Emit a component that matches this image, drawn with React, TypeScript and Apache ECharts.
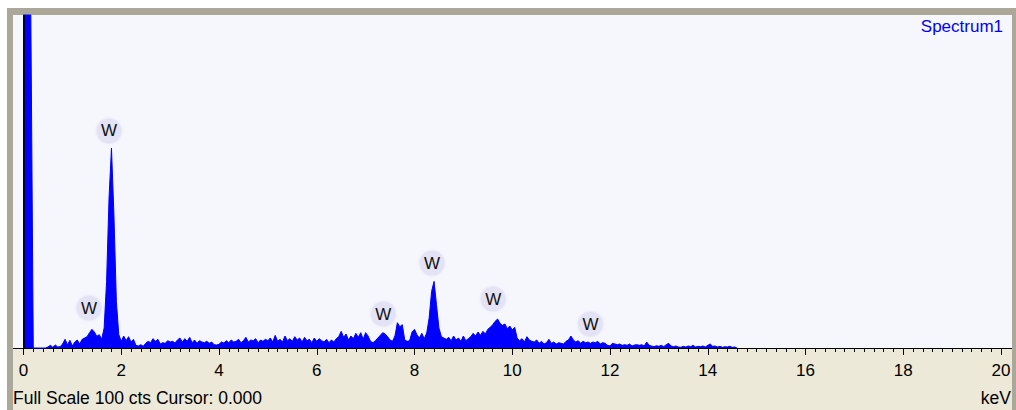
import React, { useEffect, useRef } from "react";
import * as echarts from "echarts";

// Spectrum channels: energy of channel i = ENERGY_START_KEV + i * ENERGY_STEP_KEV
const ENERGY_START_KEV = -0.2;
const ENERGY_STEP_KEV = 0.05;

// counts per channel (full scale = 100 cts), one row per keV starting at -0.2 keV
const COUNTS: number[] = [
  0, 0, 100, 100, 100, 100, 100, 100, 0, 0, 0, 0, 0, 0, 0.3, 0.8, 0.2, 0.9, 0.3, 0.4,
  1.2, 2.6, 1.0, 2.3, 0.6, 1.8, 2.4, 1.2, 2.6, 3.0, 3.4, 4.6, 5.6, 4.8, 3.5, 4.0, 2.6, 6.0, 20, 45,
  60, 40, 14, 4.0, 2.0, 3.6, 2.2, 3.4, 1.8, 2.6, 0.8, 0.6, 1.0, 0.5, 1.4, 2.0, 1.6, 2.8, 2.0, 2.6,
  1.2, 1.6, 1.4, 2.2, 1.8, 2.0, 1.5, 2.4, 3.0, 1.8, 2.8, 2.0, 3.2, 1.6, 2.4, 1.4, 2.2, 1.8, 1.6, 2.0,
  1.4, 1.8, 1.0, 0.9, 1.1, 1.8, 1.5, 2.2, 1.6, 2.4, 1.8, 2.0, 2.6, 1.6, 2.2, 3.2, 1.8, 2.4, 2.2, 2.8,
  1.6, 2.4, 2.0, 2.6, 2.2, 3.0, 1.8, 3.8, 2.0, 2.6, 1.8, 3.6, 2.2, 2.8, 2.0, 3.4, 2.4, 3.0, 1.8, 3.2,
  2.2, 2.6, 1.6, 3.0, 2.0, 2.8, 2.2, 1.8, 2.6, 1.6, 2.4, 1.8, 2.8, 3.4, 5.0, 3.2, 4.2, 2.4, 3.6, 2.8,
  4.4, 3.2, 4.6, 2.6, 4.6, 3.6, 2.0, 1.6, 2.2, 3.0, 3.8, 4.6, 4.2, 3.4, 2.4, 2.0, 3.6, 7.6, 6.4, 7.0,
  2.4, 2.0, 2.2, 4.8, 5.6, 4.0, 3.0, 4.4, 2.8, 4.5, 9, 17, 20, 13, 6, 3.4, 3.0, 2.6, 3.2, 2.2,
  3.6, 2.4, 3.0, 2.0, 3.6, 2.2, 2.8, 3.4, 4.4, 3.6, 4.8, 3.8, 5.0, 4.2, 5.6, 6.2, 7.0, 8.0, 8.7, 7.4,
  6.8, 7.2, 5.8, 6.6, 5.4, 6.2, 3.0, 2.2, 2.8, 1.8, 3.4, 2.4, 2.0, 1.8, 2.4, 1.4, 2.0, 1.2, 1.6, 2.6,
  1.4, 1.8, 1.2, 1.6, 1.4, 1.2, 2.0, 2.4, 3.6, 2.4, 1.8, 2.2, 1.4, 2.0, 1.6, 1.8, 1.4, 1.8, 1.6, 2.0,
  1.2, 1.6, 1.4, 0.8, 0.6, 1.4, 1.2, 1.0, 1.2, 0.8, 1.0, 0.8, 1.2, 0.6, 0.9, 1.0, 0.8, 1.0, 0.6, 1.8,
  0.8, 0.6, 0.4, 0.7, 0.5, 0.8, 0.4, 1.0, 1.4, 0.6, 0.4, 0.6, 0.3, 0.2, 0.5, 0.3, 0.6, 0.4, 0.8, 0.3,
  0.5, 0.4, 0.6, 0.3, 0.8, 1.2, 0.5, 0.6, 0.3, 0.5, 0.2, 0.4, 0.3, 0.5, 0.2, 0.3, 0,
];

// element line markers
const PEAK_LABELS = ["W", "W", "W", "W", "W", "W"];
const PEAK_LABEL_KEV = [1.34, 1.75, 7.36, 8.36, 9.61, 11.6];
const PEAK_LABEL_CTS = [12, 65.2, 10.2, 25.5, 14.7, 7.2];

const X_MIN_KEV = 0;
const X_MAX_KEV = 20;
const X_TICK_INTERVAL = 2;
const FULL_SCALE_CTS = 100;
const CURSOR_KEV = 0;

const SPECTRUM_NAME = "Spectrum1";
const STATUS_TEXT = "Full Scale 100 cts Cursor: 0.000";
const UNIT_TEXT = "keV";

const FONT = "'Liberation Sans', Arial, sans-serif";

export default function App() {
  const ref = useRef<HTMLDivElement>(null);

  useEffect(() => {
    if (!ref.current) return;
    const chart = echarts.init(ref.current, null, { renderer: "svg" });
    const spectrum = COUNTS.map((c, i) => [
      +(ENERGY_START_KEV + i * ENERGY_STEP_KEV).toFixed(2),
      c,
    ]);
    const markers = PEAK_LABEL_KEV.map((e, i) => [e, PEAK_LABEL_CTS[i]]);

    chart.setOption({
      animation: false,
      backgroundColor: "#ffffff",
      textStyle: { fontFamily: FONT },
      grid: { left: 23.5, right: 15, top: 15, bottom: 62 },
      xAxis: {
        type: "value",
        min: X_MIN_KEV,
        max: X_MAX_KEV,
        interval: X_TICK_INTERVAL,
        axisLine: { show: true, onZero: false, lineStyle: { color: "#000", width: 1 } },
        axisTick: { show: true, length: 7, lineStyle: { color: "#000", width: 1 } },
        minorTick: { show: true, splitNumber: 10, length: 4, lineStyle: { color: "#000", width: 1 } },
        axisLabel: { fontSize: 17, color: "#000", margin: 14, fontFamily: FONT },
        splitLine: { show: false },
        minorSplitLine: { show: false },
      },
      yAxis: { type: "value", min: 0, max: FULL_SCALE_CTS, show: false },
      graphic: [
        { type: "rect", z: -100, shape: { x: 7, y: 8, width: 1009, height: 402 }, style: { fill: "#aca899" } },
        { type: "rect", z: -99, shape: { x: 13, y: 15, width: 999, height: 395 }, style: { fill: "#ece9d8" } },
        { type: "rect", z: -98, shape: { x: 13, y: 15, width: 999, height: 333 }, style: { fill: "#f6f6fd" } },
        { type: "line", z: -97, shape: { x1: 13, y1: 348.5, x2: 1012, y2: 348.5 }, style: { stroke: "#000", lineWidth: 1 } },
        {
          type: "text", z: 100, x: 1003, y: 26,
          style: { text: SPECTRUM_NAME, fill: "#0000ff", font: `17px ${FONT}`, textAlign: "right", textVerticalAlign: "middle" },
        },
        {
          type: "text", z: 100, x: 13, y: 398,
          style: { text: STATUS_TEXT, fill: "#000", font: `17.5px ${FONT}`, textAlign: "left", textVerticalAlign: "middle" },
        },
        {
          type: "text", z: 100, x: 1011, y: 398,
          style: { text: UNIT_TEXT, fill: "#000", font: `17.5px ${FONT}`, textAlign: "right", textVerticalAlign: "middle" },
        },
      ],
      series: [
        {
          type: "line",
          data: spectrum,
          clip: false,
          showSymbol: false,
          symbol: "none",
          lineStyle: { color: "#0000ff", width: 1 },
          areaStyle: { color: "#0000ff", opacity: 1 },
          itemStyle: { color: "#0000ff" },
          z: 3,
          markLine: {
            silent: true,
            symbol: ["none", "none"],
            label: { show: false },
            lineStyle: { color: "#000033", width: 2, type: "solid" },
            data: [{ xAxis: CURSOR_KEV }],
          },
        },
        {
          type: "scatter",
          data: markers,
          symbol: "circle",
          symbolSize: 25,
          itemStyle: { color: "#e3e3f5", opacity: 1, shadowBlur: 3, shadowColor: "#e3e3f5" },
          z: 5,
          label: {
            show: true,
            position: "inside",
            formatter: (p: any) => PEAK_LABELS[p.dataIndex],
            fontSize: 17,
            color: "#111",
            fontFamily: FONT,
          },
        },
      ],
    });

    return () => chart.dispose();
  }, []);

  return (
    <div
      ref={ref}
      style={{ position: "absolute", left: 0, top: 0, width: 1016, height: 410 }}
    />
  );
}
